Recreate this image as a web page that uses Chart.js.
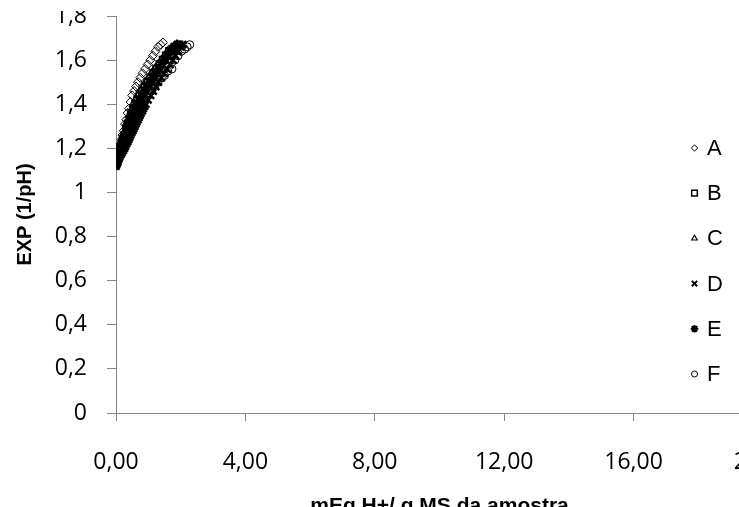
<!DOCTYPE html>
<html>
<head>
<meta charset="utf-8">
<script src="https://cdn.jsdelivr.net/npm/chart.js@4"></script>
<style>
  html, body { margin: 0; padding: 0; background: #fff; overflow: hidden; }
  #wrap { position: absolute; left: 0; top: 0; width: 800px; height: 525px; }
</style>
</head>
<body>
<div id="wrap"><canvas id="chart" width="800" height="525"></canvas></div>
<script>
// series names and their marker styles
const seriesNames = ["A", "B", "C", "D", "E", "F"];

// tick labels (Portuguese decimal comma)
const xTickLabels = ["0,00", "4,00", "8,00", "12,00", "16,00", "20,00"];
const yTickLabels = ["0", "0,2", "0,4", "0,6", "0,8", "1", "1,2", "1,4", "1,6", "1,8"];

// [mEq H+/g MS, EXP(1/pH)]
const serieA = [[0,1.13],[0.02,1.14],[0.05,1.16],[0.08,1.18],[0.11,1.20],[0.14,1.22],[0.17,1.24],[0.20,1.26],[0.24,1.28],[0.28,1.31],[0.32,1.33],[0.36,1.36],[0.40,1.38],[0.45,1.41],[0.50,1.44],[0.56,1.46],[0.62,1.48],[0.68,1.50],[0.75,1.52],[0.82,1.54],[0.90,1.56],[0.98,1.58],[1.06,1.60],[1.14,1.62],[1.22,1.64],[1.30,1.66],[1.38,1.67],[1.45,1.68]];
const serieB = [[0,1.13],[0.03,1.14],[0.06,1.16],[0.10,1.18],[0.14,1.20],[0.18,1.22],[0.22,1.24],[0.27,1.26],[0.32,1.29],[0.37,1.31],[0.42,1.33],[0.48,1.36],[0.54,1.38],[0.60,1.40],[0.67,1.42],[0.74,1.44],[0.82,1.46],[0.90,1.48],[0.98,1.50],[1.07,1.52],[1.16,1.54],[1.25,1.56],[1.35,1.58],[1.45,1.60],[1.55,1.62],[1.65,1.64],[1.75,1.65],[1.85,1.66],[1.95,1.67]];
const serieC = [[0,1.13],[0.02,1.15],[0.05,1.17],[0.08,1.19],[0.12,1.21],[0.16,1.23],[0.20,1.25],[0.25,1.27],[0.30,1.30],[0.35,1.32],[0.41,1.35],[0.47,1.37],[0.53,1.40],[0.60,1.42],[0.67,1.44],[0.75,1.46],[0.83,1.48],[0.92,1.50],[1.01,1.52],[1.10,1.54],[1.20,1.56],[1.30,1.58],[1.40,1.60],[1.50,1.62],[1.60,1.64],[1.70,1.65],[1.80,1.66],[1.88,1.67]];
const serieD = [[0,1.12],[0.02,1.13],[0.05,1.14],[0.08,1.15],[0.11,1.16],[0.14,1.17],[0.18,1.18],[0.22,1.19],[0.26,1.20],[0.29,1.21],[0.32,1.22],[0.36,1.23],[0.39,1.24],[0.42,1.25],[0.45,1.26],[0.48,1.27],[0.52,1.28],[0.55,1.29],[0.58,1.30],[0.61,1.31],[0.64,1.32],[0.68,1.33],[0.71,1.34],[0.74,1.35],[0.77,1.36],[0.81,1.37],[0.84,1.38],[0.88,1.39],[0.92,1.40],[0.99,1.42],[1.07,1.44],[1.15,1.46],[1.23,1.48],[1.31,1.50],[1.40,1.52],[1.49,1.54],[1.58,1.56],[1.67,1.58],[1.76,1.60],[1.84,1.62],[1.92,1.64],[2.00,1.66],[2.06,1.67]];
const serieE = [[0,1.13],[0.01,1.14],[0.03,1.15],[0.05,1.16],[0.07,1.17],[0.09,1.18],[0.11,1.19],[0.14,1.20],[0.16,1.21],[0.19,1.22],[0.21,1.23],[0.24,1.24],[0.26,1.25],[0.29,1.26],[0.31,1.27],[0.34,1.28],[0.36,1.29],[0.39,1.30],[0.42,1.31],[0.45,1.32],[0.48,1.33],[0.51,1.34],[0.54,1.35],[0.57,1.36],[0.60,1.37],[0.63,1.38],[0.66,1.39],[0.69,1.40],[0.76,1.42],[0.83,1.44],[0.90,1.46],[0.98,1.48],[1.06,1.50],[1.14,1.52],[1.22,1.54],[1.31,1.56],[1.40,1.58],[1.49,1.60],[1.58,1.62],[1.68,1.64],[1.80,1.66],[1.90,1.67]];
const serieF = [[0,1.12],[0.04,1.13],[0.08,1.15],[0.13,1.17],[0.18,1.19],[0.24,1.21],[0.30,1.23],[0.36,1.25],[0.43,1.28],[0.50,1.30],[0.57,1.32],[0.65,1.35],[0.73,1.37],[0.82,1.40],[0.91,1.42],[1.00,1.44],[1.10,1.46],[1.20,1.48],[1.30,1.50],[1.40,1.52],[1.50,1.53],[1.60,1.55],[1.73,1.56],[1.82,1.60],[1.92,1.62],[2.02,1.64],[2.12,1.65],[2.20,1.66],[2.28,1.67]];

const AXIS = "#868686";
const NOFILL = "rgba(0,0,0,0)";

// open markers have no fill, like the original spreadsheet chart
const markers = [
    { pointStyle: "rectRot", radius: 4.5, legendRadius: 3.2, fill: NOFILL, bw: 1 },
    { pointStyle: "rect", radius: 5, legendRadius: 4, fill: NOFILL, bw: 1.5 },
    { pointStyle: "triangle", radius: 4.5, legendRadius: 3.2, fill: NOFILL, bw: 1.2 },
    { pointStyle: "crossRot", radius: 5, legendRadius: 3.8, fill: "#000", bw: 2.5 },
    { pointStyle: "star", radius: 5, legendRadius: 3.8, fill: "#000", bw: 2.2 },
    { pointStyle: "circle", radius: 4, legendRadius: 3, fill: NOFILL, bw: 1 }
];

const allSeries = [serieA, serieB, serieC, serieD, serieE, serieF];

const datasets = allSeries.map((s, i) => ({
    label: seriesNames[i],
    data: s.map(p => ({ x: p[0], y: p[1] })),
    showLine: false,
    order: allSeries.length - i,
    pointStyle: markers[i].pointStyle,
    pointRadius: markers[i].radius,
    pointBackgroundColor: markers[i].fill,
    pointBorderColor: "#000",
    pointBorderWidth: markers[i].bw
}));

// legend drawn on the right, over the cropped plot area
const sideLegend = {
    id: "sideLegend",
    afterDraw(chart) {
        const ctx = chart.ctx;
        ctx.save();
        seriesNames.forEach((name, i) => {
            const y = 148 + i * 45.2;
            const m = markers[i];
            ctx.fillStyle = m.fill;
            ctx.strokeStyle = "#000";
            ctx.lineWidth = Math.min(m.bw, 2);
            Chart.helpers.drawPoint(ctx, { pointStyle: m.pointStyle, radius: m.legendRadius, rotation: 0, borderWidth: m.bw }, 694.5, y);
            ctx.fillStyle = "#000";
            ctx.font = "22px 'Liberation Sans', Arial, sans-serif";
            ctx.textBaseline = "middle";
            ctx.textAlign = "left";
            ctx.fillText(name, 707, y + 1);
        });
        // the top of the original picture is cut just above the "1,8" label
        ctx.fillStyle = "#fff";
        ctx.fillRect(0, 0, 110, 11);
        ctx.restore();
    }
};

new Chart(document.getElementById("chart"), {
    type: "scatter",
    data: { datasets },
    plugins: [sideLegend],
    options: {
        responsive: false,
        animation: false,
        layout: { padding: { top: 16, right: 37, left: 0, bottom: 0 } },
        plugins: {
            legend: { display: false },
            tooltip: { enabled: false }
        },
        scales: {
            x: {
                type: "linear",
                min: 0,
                max: 20,
                afterFit(scale) {
                    scale.height = 112;
                    scale.paddingLeft = 0;
                    scale.paddingRight = 0;
                },
                afterBuildTicks(scale) {
                    scale.ticks = xTickLabels.map((_, i) => ({ value: i * 4 }));
                },
                ticks: {
                    color: "#000",
                    padding: 28,
                    maxRotation: 0,
                    autoSkip: false,
                    font: { family: "'Open Sans', sans-serif", size: 23 },
                    callback: (v, i) => xTickLabels[i]
                },
                grid: { drawOnChartArea: false, drawTicks: true, tickLength: 8, color: AXIS },
                border: { color: AXIS, width: 1 },
                title: {
                    display: true,
                    text: "mEq H+/ g MS da amostra",
                    color: "#000",
                    padding: { top: 0, bottom: 6 },
                    font: { family: "'Liberation Sans', Arial, sans-serif", size: 21, weight: "bold" }
                }
            },
            y: {
                type: "linear",
                min: 0,
                max: 1.8,
                afterFit(scale) {
                    scale.width = 116;
                    scale.paddingTop = 0;
                    scale.paddingBottom = 0;
                },
                afterBuildTicks(scale) {
                    scale.ticks = yTickLabels.map((_, i) => ({ value: i * 0.2 }));
                },
                ticks: {
                    color: "#000",
                    padding: 20,
                    autoSkip: false,
                    font: { family: "'Open Sans', sans-serif", size: 23 },
                    callback: (v, i) => yTickLabels[i]
                },
                grid: { drawOnChartArea: false, drawTicks: true, tickLength: 9, color: AXIS },
                border: { color: AXIS, width: 1 },
                title: {
                    display: true,
                    text: "EXP (1/pH)",
                    color: "#000",
                    padding: { top: 13, bottom: 0 },
                    font: { family: "'Liberation Sans', Arial, sans-serif", size: 20, weight: "bold" }
                }
            }
        }
    }
});
</script>
</body>
</html>
